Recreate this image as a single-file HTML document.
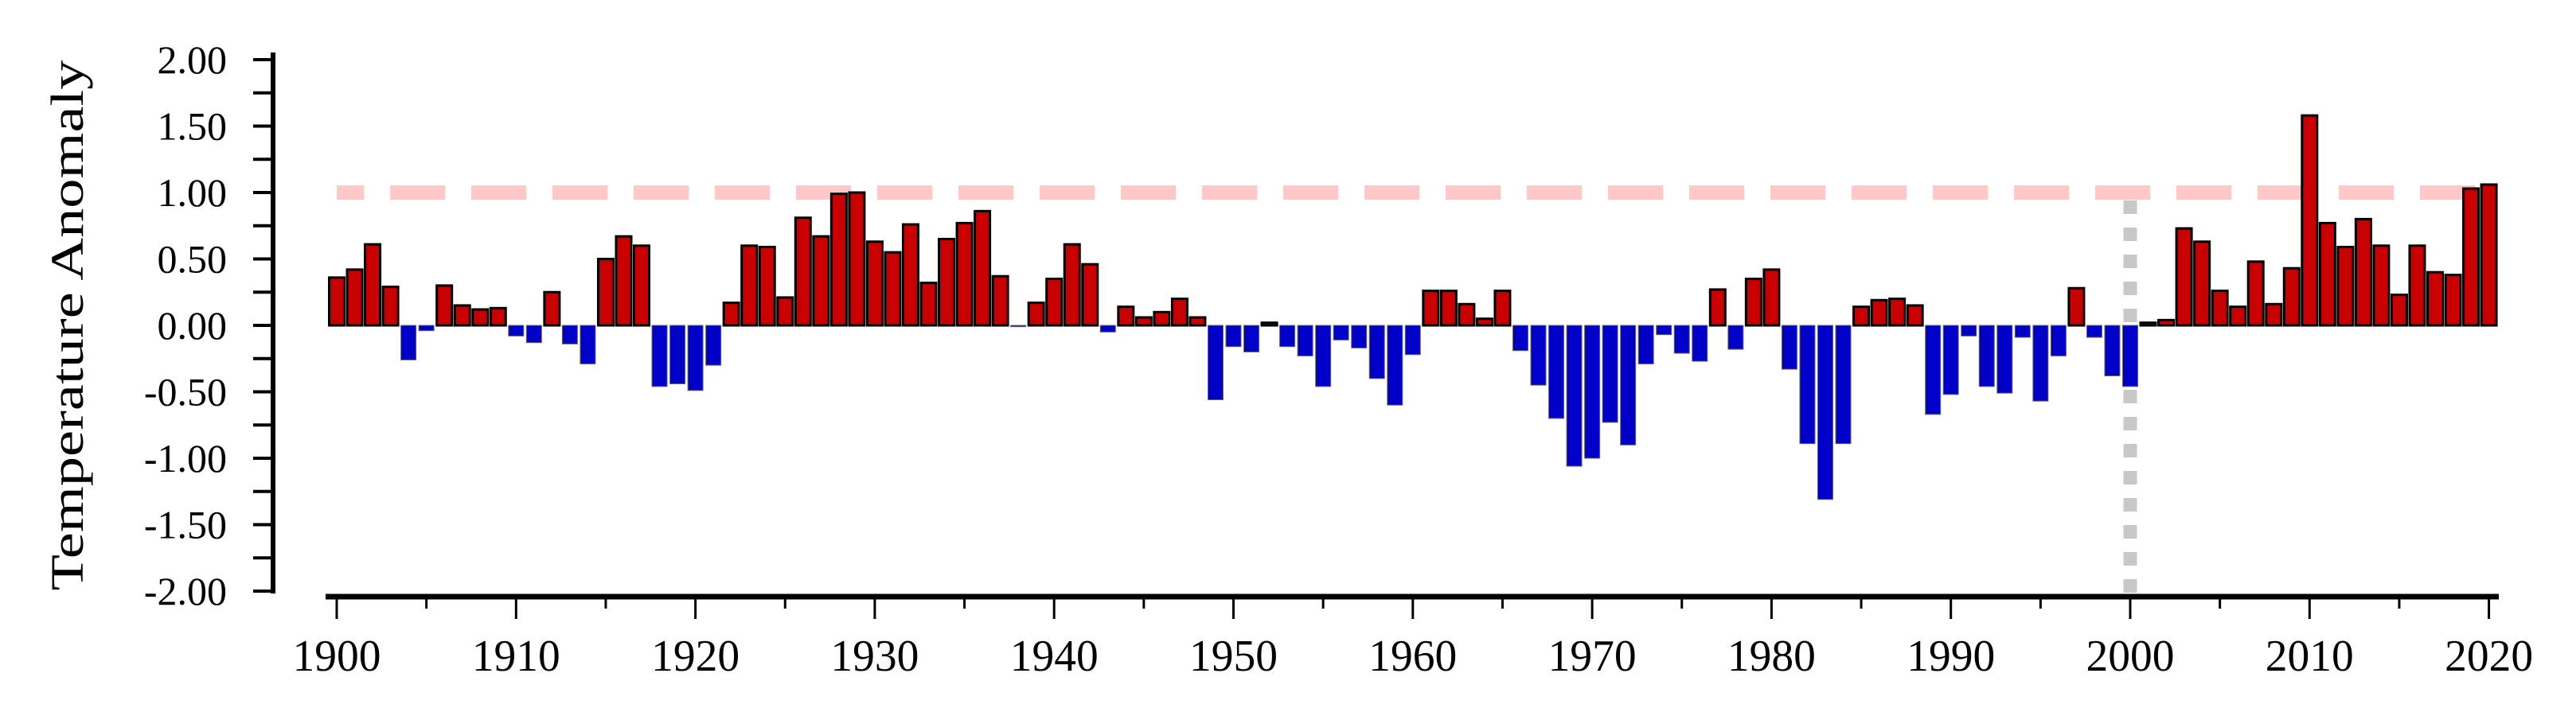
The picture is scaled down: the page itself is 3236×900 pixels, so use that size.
<!DOCTYPE html>
<html>
<head>
<meta charset="utf-8">
<style>
html,body{margin:0;padding:0;background:#fff;}
svg{display:block;}
text{font-family:"Liberation Serif",serif;fill:#000;}
</style>
</head>
<body>
<svg id="chart" width="3236" height="900" viewBox="0 0 3236 900" xmlns="http://www.w3.org/2000/svg">
  <text x="0" y="0" transform="translate(104,409) rotate(-90)" text-anchor="middle" font-size="58" textLength="667" lengthAdjust="spacingAndGlyphs">Temperature Anomaly</text>
  <g id="grid"></g>
</svg>
<script>
const years = [];
for (let y = 1900; y <= 2020; y++) years.push(y);
const anomalies = [
 0.36,0.42,0.61,0.29,-0.26,-0.04,0.30,0.15,0.12,0.13,
 -0.08,-0.13,0.25,-0.14,-0.29,0.50,0.67,0.60,-0.46,-0.44,
 -0.49,-0.30,0.17,0.60,0.59,0.21,0.81,0.67,0.99,1.00,
 0.63,0.55,0.76,0.32,0.65,0.77,0.86,0.37,-0.01,0.17,
 0.35,0.61,0.46,-0.05,0.14,0.06,0.10,0.20,0.06,-0.56,
 -0.16,-0.20,0.02,-0.16,-0.23,-0.46,-0.11,-0.17,-0.40,-0.60,
 -0.22,0.26,0.26,0.16,0.05,0.26,-0.19,-0.45,-0.70,-1.06,
 -1.00,-0.73,-0.90,-0.29,-0.07,-0.21,-0.27,0.27,-0.18,0.35,
 0.42,-0.33,-0.89,-1.31,-0.89,0.14,0.19,0.20,0.15,-0.67,
 -0.52,-0.08,-0.46,-0.51,-0.09,-0.57,-0.23,0.28,-0.09,-0.38,
 -0.46,0.02,0.04,0.73,0.63,0.26,0.14,0.48,0.16,0.43,
 1.58,0.77,0.59,0.80,0.60,0.23,0.60,0.40,0.38,1.03,
 1.06
];
const yTickValues = [2,1.5,1,0.5,0,-0.5,-1,-1.5,-2];
const yTickLabels = ["2.00","1.50","1.00","0.50","0.00","-0.50","-1.00","-1.50","-2.00"];
const xTickYears = [1900,1910,1920,1930,1940,1950,1960,1970,1980,1990,2000,2010,2020];
const thresholdValue = [1.0];
const markerYear = [2000];

const NS = "http://www.w3.org/2000/svg";
const svg = document.getElementById("chart");
const X0 = 423, PXY = 22.53, Y0 = 409, PXU = 167;
function xs(yr){ return X0 + (yr - 1900) * PXY; }
function ys(v){ return Y0 - v * PXU; }
function mk(tag, attrs, parent){
  const e = document.createElementNS(NS, tag);
  for (const k in attrs) e.setAttribute(k, attrs[k]);
  (parent || svg).appendChild(e);
  return e;
}

// bars
const barG = mk("g", {});


years.forEach((yr, i) => {
  const v = anomalies[i];
  const top = Math.min(ys(v), ys(0)), h = Math.abs(ys(v) - ys(0));
  const pos = v >= 0;
  const r = mk("rect", {x: xs(yr) - 9.5, y: top, width: 19, height: Math.max(h, 1.5),
    fill: pos ? "#c80000" : "#0000c8", stroke: pos ? "#000" : "#666", "stroke-width": pos ? 3 : 1}, barG);
  
  
});

// threshold dashed line
const th = mk("line", {x1: 423, x2: 3135, y1: ys(thresholdValue[0]), y2: ys(thresholdValue[0]),
  stroke: "#ffc8c8", "stroke-width": 18, "stroke-dasharray": "69 33", "stroke-dashoffset": 35});


svg.insertBefore(th, barG);

// 2000 marker line
const mv = mk("line", {x1: xs(markerYear[0]), x2: xs(markerYear[0]), y1: 252, y2: 745,
  stroke: "#c8c8c8", "stroke-width": 17, "stroke-dasharray": "17 17"});


svg.insertBefore(mv, barG);

// y axis
const yAxis = mk("g", {});


mk("line", {x1: 343, x2: 343, y1: 66, y2: ys(-2) + 3, stroke: "#000", "stroke-width": 6}, yAxis);
for (let v = 2; v >= -2.001; v -= 0.25) {
  mk("line", {x1: 318, x2: 343, y1: ys(v), y2: ys(v), stroke: "#000", "stroke-width": 4}, yAxis);
}
yTickValues.forEach((v, i) => {
  const t = mk("text", {x: 285, y: ys(v) + 17, "text-anchor": "end", "font-size": 50}, yAxis);
  t.textContent = yTickLabels[i];
  
  
});

// x axis
const xAxis = mk("g", {});


mk("line", {x1: 409, x2: 3139, y1: 750, y2: 750, stroke: "#000", "stroke-width": 7}, xAxis);
for (let yr = 1900; yr <= 2020; yr += 5) {
  const major = yr % 10 === 0;
  mk("line", {x1: xs(yr), x2: xs(yr), y1: 753, y2: major ? 778 : 765, stroke: "#000", "stroke-width": 3}, xAxis);
}
xTickYears.forEach(yr => {
  const t = mk("text", {x: xs(yr), y: 843, "text-anchor": "middle", "font-size": 56,
    textLength: 111, lengthAdjust: "spacingAndGlyphs"}, xAxis);
  t.textContent = String(yr);
  
  
});
</script>
</body>
</html>
